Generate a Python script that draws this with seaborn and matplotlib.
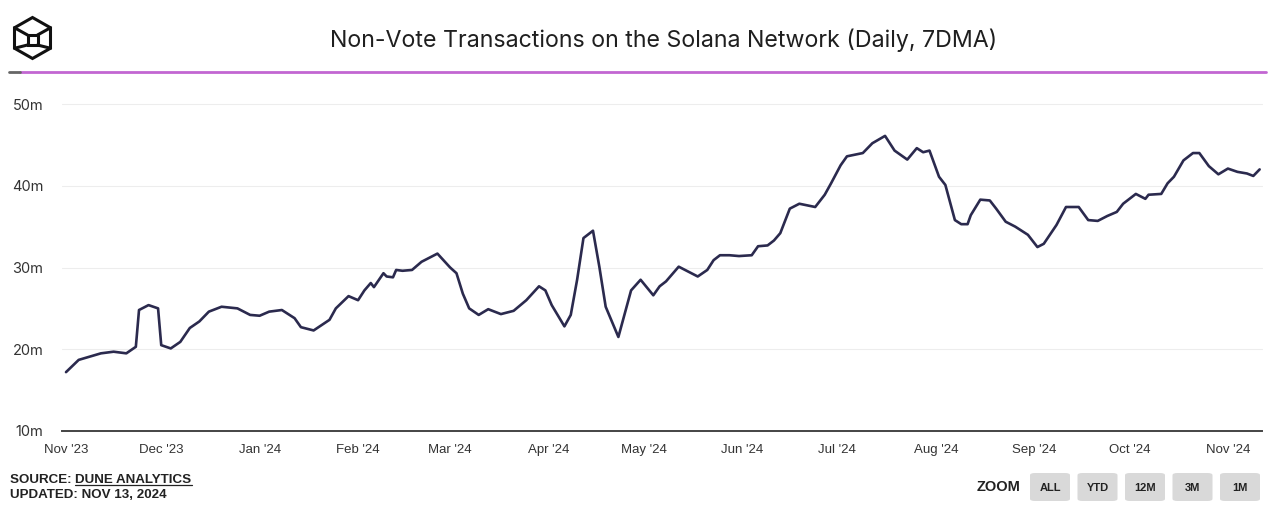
import pandas as pd
import seaborn as sns
import matplotlib.pyplot as plt
from matplotlib.patches import FancyBboxPatch, Polygon, Rectangle
from matplotlib.lines import Line2D
from matplotlib.ticker import FuncFormatter
import matplotlib.dates as mdates

# values (millions of non-vote txs, 7DMA)
dates = [
    "2023-11-01", "2023-11-05", "2023-11-12", "2023-11-16", "2023-11-20", "2023-11-23",
    "2023-11-24", "2023-11-27", "2023-11-30", "2023-12-01", "2023-12-04", "2023-12-07",
    "2023-12-10", "2023-12-13", "2023-12-16", "2023-12-20", "2023-12-25", "2023-12-29",
    "2024-01-01", "2024-01-04", "2024-01-08", "2024-01-12", "2024-01-14", "2024-01-18",
    "2024-01-23", "2024-01-25", "2024-01-29", "2024-02-01", "2024-02-03", "2024-02-05",
    "2024-02-06", "2024-02-09", "2024-02-10", "2024-02-12", "2024-02-13", "2024-02-15",
    "2024-02-18", "2024-02-21", "2024-02-24", "2024-02-26", "2024-03-01", "2024-03-03",
    "2024-03-05", "2024-03-07", "2024-03-10", "2024-03-13", "2024-03-17", "2024-03-21",
    "2024-03-25", "2024-03-29", "2024-03-31", "2024-04-02", "2024-04-06", "2024-04-08",
    "2024-04-10", "2024-04-12", "2024-04-15", "2024-04-17", "2024-04-19", "2024-04-23",
    "2024-04-27", "2024-04-30", "2024-05-04", "2024-05-06", "2024-05-08", "2024-05-12",
    "2024-05-18", "2024-05-21", "2024-05-23", "2024-05-25", "2024-05-28", "2024-05-31",
    "2024-06-04", "2024-06-06", "2024-06-09", "2024-06-11", "2024-06-13", "2024-06-16",
    "2024-06-19", "2024-06-24", "2024-06-27", "2024-06-29", "2024-07-02", "2024-07-04",
    "2024-07-09", "2024-07-12", "2024-07-16", "2024-07-19", "2024-07-23", "2024-07-26",
    "2024-07-28", "2024-07-30", "2024-08-02", "2024-08-04", "2024-08-07", "2024-08-09",
    "2024-08-11", "2024-08-12", "2024-08-15", "2024-08-18", "2024-08-20", "2024-08-23",
    "2024-08-26", "2024-08-30", "2024-09-02", "2024-09-04", "2024-09-08", "2024-09-11",
    "2024-09-15", "2024-09-18", "2024-09-21", "2024-09-24", "2024-09-27", "2024-09-29",
    "2024-10-03", "2024-10-06", "2024-10-07", "2024-10-11", "2024-10-13", "2024-10-15",
    "2024-10-18", "2024-10-21", "2024-10-23", "2024-10-26", "2024-10-29", "2024-11-01",
    "2024-11-04", "2024-11-07", "2024-11-09", "2024-11-11",
]
txs_m = [
    17.2, 18.7, 19.5, 19.7, 19.5, 20.3,
    24.8, 25.4, 25.0, 20.5, 20.1, 20.9,
    22.6, 23.4, 24.6, 25.2, 25.0, 24.2,
    24.1, 24.6, 24.8, 23.8, 22.7, 22.3,
    23.6, 25.0, 26.5, 26.0, 27.2, 28.1,
    27.6, 29.3, 28.9, 28.8, 29.7, 29.6,
    29.7, 30.7, 31.3, 31.7, 30.0, 29.3,
    26.8, 25.0, 24.2, 24.9, 24.3, 24.7,
    26.0, 27.7, 27.2, 25.4, 22.8, 24.2,
    28.5, 33.6, 34.5, 30.1, 25.2, 21.5,
    27.2, 28.5, 26.6, 27.7, 28.3, 30.1,
    28.9, 29.7, 30.9, 31.5, 31.5, 31.4,
    31.5, 32.6, 32.7, 33.3, 34.2, 37.2,
    37.8, 37.4, 38.9, 40.3, 42.5, 43.6,
    44.0, 45.2, 46.1, 44.3, 43.2, 44.6,
    44.1, 44.3, 41.1, 40.1, 35.8, 35.3,
    35.3, 36.4, 38.3, 38.2, 37.2, 35.6,
    35.0, 34.0, 32.5, 32.9, 35.2, 37.4,
    37.4, 35.8, 35.7, 36.3, 36.8, 37.8,
    39.0, 38.4, 38.9, 39.0, 40.3, 41.1,
    43.1, 44.0, 44.0, 42.4, 41.4, 42.1,
    41.7, 41.5, 41.2, 42.0,
]
yticks = [10, 20, 30, 40, 50]
zoom_buttons = ["ALL", "YTD", "12M", "3M", "1M"]

W, H = 1280, 530


def px(x, y):
    # pixel (from top-left) -> figure fraction
    return x / W, 1 - y / H


df = pd.DataFrame({"date": pd.to_datetime(dates), "txs": txs_m})

sns.set_style("white")
plt.rcParams["font.family"] = ["Liberation Sans", "DejaVu Sans"]

fig = plt.figure(figsize=(W / 100, H / 100), dpi=100)
ax = fig.add_axes([62 / W, 1 - 431 / H, 1200 / W, (431 - 104) / H])

sns.lineplot(data=df, x="date", y="txs", ax=ax, color="#2b2a4e", linewidth=1.9)

# axes styling
start = pd.Timestamp("2023-11-01") - pd.Timedelta(days=1.26)
ax.set_xlim(start, start + pd.Timedelta(days=378))
ax.set_ylim(10, 50)
ax.set_yticks(yticks)
ax.yaxis.set_major_formatter(FuncFormatter(lambda v, p: f"{v:.0f}m"))
ax.xaxis.set_major_locator(mdates.MonthLocator())
ax.xaxis.set_major_formatter(mdates.DateFormatter("%b '%y"))
ax.grid(axis="y", color="#ededed", linewidth=0.8)
ax.set_axisbelow(True)
for s in ["top", "left", "right"]:
    ax.spines[s].set_visible(False)
ax.spines["bottom"].set_color("#444444")
ax.spines["bottom"].set_linewidth(1.4)
ax.tick_params(axis="y", length=0, pad=13.5, labelsize=10.5, labelcolor="#333333")
ax.tick_params(axis="x", length=0, pad=15.5, labelsize=9.5, labelcolor="#333333")
for lbl in ax.get_yticklabels():
    lbl.set_fontfamily(["Inter", "DejaVu Sans"])
for lbl in ax.get_xticklabels():
    lbl.set_verticalalignment("baseline")
ax.set_xlabel("")
ax.set_ylabel("")
for gl in ax.get_ygridlines():
    gl.set_clip_on(False)

# title + header rule
fig.text(*px(664, 40), "Non-Vote Transactions on the Solana Network (Daily, 7DMA)",
         ha="center", va="center", fontsize=16.7, color="#1f1f1f",
         family=["Inter", "DejaVu Sans"])
fig.add_artist(Line2D([px(20, 0)[0], px(1266, 0)[0]], [px(0, 72)[1]] * 2,
                      color="#c266d2", linewidth=2))
fig.add_artist(Line2D([px(9, 0)[0], px(20, 0)[0]], [px(0, 72)[1]] * 2,
                      color="#666666", linewidth=2))

# logo: hexagonal cube outline
cx, cy, r = 32.5, 38, 20.5
hexpts = [(cx, cy - r), (cx + 18, cy - r / 2), (cx + 18, cy + r / 2),
          (cx, cy + r), (cx - 18, cy + r / 2), (cx - 18, cy - r / 2)]
fig.add_artist(Polygon([px(*p) for p in hexpts], closed=True, fill=False,
                       edgecolor="#111111", linewidth=2.2, transform=fig.transFigure))
sq = 5
fig.add_artist(Rectangle(px(cx - sq, cy + 2 + sq), 2 * sq / W, 2 * sq / H, fill=False,
                         edgecolor="#111111", linewidth=2.2, transform=fig.transFigure))
corners = [(cx - sq, cy + 2 - sq), (cx + sq, cy + 2 - sq),
           (cx + sq, cy + 2 + sq), (cx - sq, cy + 2 + sq)]
for hp, cp in zip([hexpts[5], hexpts[1], hexpts[2], hexpts[4]], corners):
    a, b = px(*hp), px(*cp)
    fig.add_artist(Line2D([a[0], b[0]], [a[1], b[1]], color="#111111", linewidth=2.2))

# footer
src = fig.text(*px(10, 480), "SOURCE: ", ha="left", va="center", fontsize=9.6,
               fontweight="bold", color="#222222")
fig.canvas.draw()
bb = src.get_window_extent()
dune = fig.text(bb.x1 / W, px(0, 480)[1], "DUNE ANALYTICS", ha="left", va="center",
                fontsize=9.6, fontweight="bold", color="#222222")
fig.canvas.draw()
db = dune.get_window_extent()
fig.add_artist(Line2D([db.x0 / W, db.x1 / W], [(db.y0 + 1.0) / H] * 2,
                      color="#222222", linewidth=0.9))
fig.text(*px(10, 495), "UPDATED: NOV 13, 2024", ha="left", va="center", fontsize=9.6,
         fontweight="bold", color="#222222")

# zoom buttons (static)
fig.text(*px(999, 487), "ZOOM", ha="center", va="center", fontsize=10.5,
         fontweight="bold", color="#222222")
for i, name in enumerate(zoom_buttons):
    x0 = 1030 + i * 47.5
    fig.add_artist(FancyBboxPatch(px(x0, 501), 40 / W, 28 / H,
                                  boxstyle="round,pad=0,rounding_size=0.004",
                                  facecolor="#d9d9d9", edgecolor="none",
                                  transform=fig.transFigure))
    fig.text(*px(x0 + 20, 488), name, ha="center", va="center", fontsize=8,
             fontweight="bold", color="#222222")

fig.savefig("out.png", dpi=100, facecolor="white")
